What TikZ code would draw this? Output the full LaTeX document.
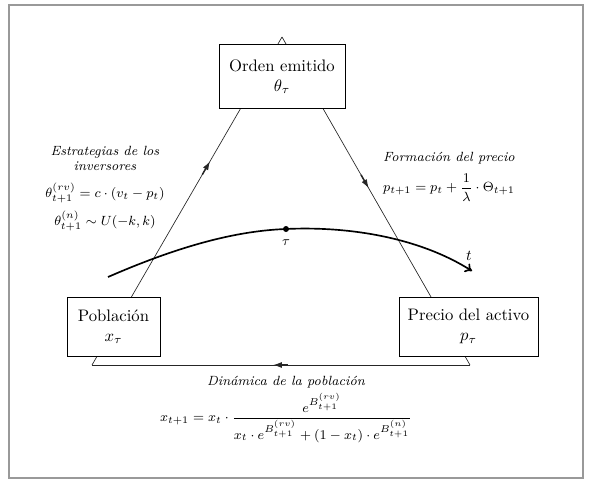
\documentclass[tikz,border=0pt]{standalone}
\usepackage{amsmath}
\usetikzlibrary{arrows.meta,decorations.markings}
\begin{document}
\begin{tikzpicture}[x=0.6pt, y=-0.6pt,
    box/.style={draw, line width=0.6pt, fill=white, align=center, inner sep=2pt},
    side/.style={draw=black!85, line width=0.4pt, postaction={decorate}},
    mid arrow/.style={decoration={markings, mark=at position #1 with
        {\draw[line width=0.9pt] (-9pt,0) -- (-2pt,0); \arrow{Latex[length=5pt,width=3.5pt]}}}},
    caption/.style={font=\footnotesize\itshape, align=center},
    formula/.style={font=\footnotesize},
    timeline/.style={line width=1pt, -{To[length=4pt,width=6pt,line width=1pt]}},
    frame/.style={draw=black!40, line width=1.2pt}]

    \useasboundingbox (0,0) rectangle (589,487);
    \draw[frame] (9,5) rectangle (583,478);

    % triangle
    \coordinate (A) at (282,37);
    \coordinate (L) at (92,365);
    \coordinate (R) at (470,365);

    \draw[side, mid arrow=0.62] (L) -- (A);
    \draw[side, mid arrow=0.46] (A) -- (R);
    \draw[side, mid arrow=0.52] (R) -- (L);

    % boxes
    \node[box, minimum width=75.6pt, minimum height=37.8pt] (orden) at (282,76.5) {Orden emitido\\$\theta_\tau$};
    \node[box, minimum width=55.8pt, minimum height=35.4pt] (poblacion) at (113.5,326.5) {Poblaci\'on\\$x_\tau$};
    \node[box, minimum width=83.4pt, minimum height=35.4pt] (precio) at (468.5,326.5) {Precio del activo\\$p_\tau$};

    % time
    \coordinate (t0) at (108,277);
    \coordinate (tau) at (286,229);
    \coordinate (t1) at (472,271);
    \draw[timeline] (t0) .. controls (170,250) and (230,231) .. (tau)
        .. controls (350,226) and (420,238) .. (t1);
    \fill (tau) circle (1.8pt);
    \node[font=\footnotesize] (taulabel) at (286,243) {$\tau$};
    \node[font=\small] (tlabel) at (469,256) {$t$};

    % labels
    \node[caption] (estrategias) at (105,158.5) {Estrategias de los\\inversores};
    \node[formula] (thetarv) at (105,193) {$\theta^{(rv)}_{t+1} = c\cdot(v_t - p_t)$};
    \node[formula] (thetan) at (105,221) {$\theta^{(n)}_{t+1} \sim U(-k,k)$};

    \node[caption] (formacion) at (449,158) {Formaci\'on del precio};
    \node[formula] (pform) at (449,188) {$p_{t+1} = p_t + \dfrac{1}{\lambda}\cdot\Theta_{t+1}$};

    \node[caption] (dinamica) at (286,382) {Din\'amica de la poblaci\'on};
    \node[formula] (xform) at (286,418) {$x_{t+1} = x_t\cdot\dfrac{e^{B^{(rv)}_{t+1}}}{x_t\cdot e^{B^{(rv)}_{t+1}} + (1-x_t)\cdot e^{B^{(n)}_{t+1}}}$};
\end{tikzpicture}
\end{document}
